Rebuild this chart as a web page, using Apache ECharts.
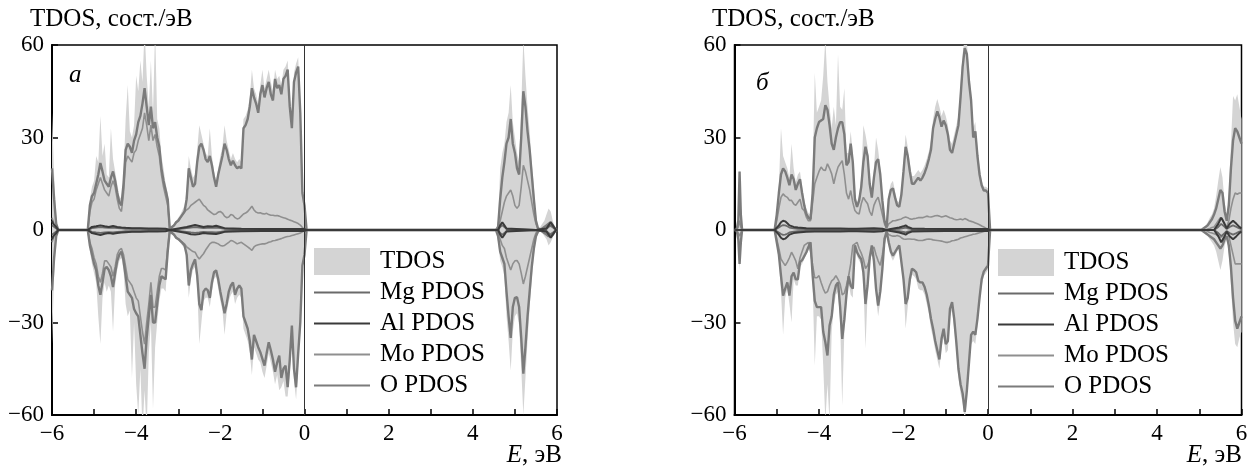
<!DOCTYPE html>
<html><head><meta charset="utf-8">
<script src="https://cdn.jsdelivr.net/npm/echarts@6/dist/echarts.min.js"></script>
<style>html,body{margin:0;padding:0;background:#fff}#c{width:1255px;height:471px}</style>
</head><body><div id="c"></div>
<script>
// ---------- tick labels / legend names ----------
const xTicks = [-6,-4,-2,0,2,4,6];
const xTickLabels = ['\u22126','\u22124','\u22122','0','2','4','6'];
const yTicks = [-60,-30,0,30,60];
const yTickLabels = ['\u221260','\u221230','0','30','60'];
const legendNames = ['TDOS','Mg PDOS','Al PDOS','Mo PDOS','O PDOS'];
const panelLabels = ['a','\u0431'];
const yTitle = 'TDOS, \u0441\u043e\u0441\u0442./\u044d\u0412';

// ---------- panel a ----------
const eA = [
-6.00,-5.95,-5.90,-5.85,
-5.15,-5.10,-5.05,-5.00,-4.95,-4.90,-4.85,-4.80,-4.75,-4.70,
-4.65,-4.60,-4.55,-4.50,-4.45,-4.40,-4.35,-4.30,-4.25,-4.20,
-4.15,-4.10,-4.05,-4.00,-3.95,-3.90,-3.85,-3.80,-3.75,-3.70,
-3.65,-3.60,-3.55,-3.50,-3.45,-3.40,-3.35,-3.30,-3.25,-3.20,
-3.15,-3.10,-3.05,-3.00,-2.95,-2.90,-2.85,-2.80,-2.75,-2.70,
-2.65,-2.60,-2.55,-2.50,-2.45,-2.40,-2.35,-2.30,-2.25,-2.20,
-2.15,-2.10,-2.05,-2.00,-1.95,-1.90,-1.85,-1.80,-1.75,-1.70,
-1.65,-1.60,-1.55,-1.50,-1.45,-1.40,-1.35,-1.30,-1.25,-1.20,
-1.15,-1.10,-1.05,-1.00,-0.95,-0.90,-0.85,-0.80,-0.75,-0.70,
-0.65,-0.60,-0.55,-0.50,-0.45,-0.40,-0.35,-0.30,-0.25,-0.20,
-0.15,-0.10,-0.05,0.00,0.05,
4.55,4.60,4.65,4.70,4.75,4.80,4.85,4.90,4.95,5.00,
5.05,5.10,5.15,5.20,5.25,5.30,5.35,5.40,5.45,5.50,
5.55,5.60,5.65,5.70,5.75,5.80,5.85,5.90,5.95,6.00];
const tdosUpA = [
38,18,4,0,
0,10,14,16,24,22,37,24,28,18,
17,33,23,19,15,11,10,18,36,47,
32,30,34,50,45,55,48,65,50,40,
55,38,65,36,33,24,20,15,12,0,
1.5,2,3,4,5,6.5,8,13,24,20,
17,18,26,34,31,28,25,24,33,24,
19,16,20,24,27,34,29,26,23,25,
23,22,23,22,36,37,39,43,52,46,
44,41,47,52,46,49,52,48,45,52,
49,50,47,52,53,55,43,36,51,54,
56,40,14,10,0,
0,3,20,25,28,35,38,47,35,30,
25,22,40,62,50,40,32,22,14,5,
1,1,2,3,5,7,6,3,1,0.5];
const oUpA = [
20,10,2,0,
0,8,11,12,15,18,21.7,19,16,15,
14,17,19,16,12,9,8,15,26,28,
27,25,29,31,35,37,41,46,40,34,
40,33,35,30,27,20,16,13,10,0,
1,1.5,2.5,3,4,5,6,10,20,17,
14,15,22,27,28,26,23,22,24,21,
17,14,18,21,24,28,26,23,21,22.5,
21,20,20.5,20,33,34,36,40,46,43,
41,38,44,47,43,46,48,44,42,49,
46,47,44,49,50,52,40,33,48,51,
53,38,12,8,0,
0,1,10,17,22,28,30,36,28,25,
20,18,30,45,40,32,26,18,10,3,
0.5,0,0.5,1,1.5,2,2.5,1.5,0.5,0];
const moUpA = [
4,2,0.5,0,
0,6,9,10,13,15,17,15,13,12,
11,14,16,14,10,7,6,12,22,24,
23,22,25,26,29,31,33,38,34,29,
34,29,31,27,24,18,14,11,8,0,
0.8,1.5,2.5,3,4,5,6,6.5,7,8,
8.5,9,9.5,10,9,8,7.5,6.5,6,5.5,
5,5.2,5.8,6,5.5,4.5,4,4.2,5,4.8,
4,3.6,3.8,4.5,5.2,5.5,6,6.8,7.7,6.5,
5.8,5.5,5.6,5.3,5.2,5.4,5,4.8,4.8,4.6,
4.7,4.5,4.2,4,3.8,3.5,3.2,3,2.7,2.4,
2.1,1.6,0.8,0.3,0,
0,0.5,3,6,9,11,12,13,11,8,
7,8,14,21,19,16,13,9,5,2,
0.3,0,0.3,0.6,1,1.5,1.2,0.8,0.3,0];
const tdosDnA = [
-37,-15,-3,0,
0,-7,-11,-14,-17,-28,-37,-22,-17,-20,
-18,-20,-33,-18,-13,-10,-9,-13,-24,-28,
-26,-48,-30,-50,-60,-45,-65,-52,-65,-40,
-30,-58,-38,-30,-23,-19,-19,-20,-9,0,
-1.5,-2,-3,-3.5,-4.2,-5,-6,-10,-22,-16,
-13,-12,-18,-37,-30,-23,-22,-22,-25,-20,
-16,-15,-19,-23,-26,-34,-27,-23,-21,-20,
-24,-22,-21,-22,-32,-34,-36,-40,-47,-38,
-40,-42,-43,-46,-48,-44,-40,-43,-46,-50,
-47,-52,-51,-49,-54,-54,-46,-35,-49,-55,
-44,-33,-13,-9,0,
0,-4,-10,-12,-15,-28,-36,-45.6,-33,-28,
-27,-31,-45,-60,-48,-36,-25,-16,-8,-3,
-1,-0.5,-1,-2,-3,-5,-4,-2.5,-1,-0.5];
const oDnA = [
-19.6,-9,-2,0,
0,-5,-8,-11,-13,-18,-21,-17,-12.6,-12,
-13,-15,-18.5,-14,-10,-8,-7,-10,-15,-20,
-21,-22,-25.6,-27,-28,-34,-40,-45,-35,-28,
-21,-30,-30,-24,-18,-15,-15.5,-16,-7,0,
-1,-1.5,-2.5,-2.9,-3.5,-4.2,-5,-8,-18,-13,
-11,-9.5,-14.8,-24,-26,-20,-19,-19.5,-22,-17,
-13.7,-13.1,-16,-20,-23.4,-27,-24,-20,-18,-17,
-21,-19,-18,-19,-28,-30,-32,-36,-42,-34,
-36,-38,-39.6,-41.8,-44,-40,-36.4,-39,-42,-46,
-43,-40.7,-48,-45,-44,-51,-42,-31,-45,-51,
-40,-30,-11.5,-8,0,
0,-2,-7,-9,-11,-20,-28,-35,-25,-22,
-21.8,-25,-35,-46.6,-38,-28,-20,-12,-6,-2,
-0.5,0,-0.5,-1,-1.5,-2,-2,-1.5,-0.5,0];
const moDnA = [
-4,-2,-0.5,0,
0,-4,-6,-9,-11,-15,-17,-14,-10,-10,
-11,-12,-15,-12,-8,-6.5,-6,-8,-12,-16,
-17,-18,-20,-22,-23,-28,-33,-37,-30,-24,
-17,-25,-25,-20,-15,-12.5,-12.5,-13,-5.5,0,
-0.8,-1.5,-2.5,-2.9,-3.5,-4,-4.5,-5.5,-6,-6.5,
-7,-7.2,-8.5,-9.4,-8.5,-7.7,-6.5,-5.5,-4.5,-4,
-4,-4.2,-4.5,-5,-5.2,-5,-4.5,-4,-3.4,-3.6,
-4,-4.5,-4.2,-4,-4.5,-5,-5.5,-6,-6.6,-5.5,
-5,-4.8,-4.6,-4.5,-4.5,-4.3,-4,-3.8,-3.5,-3.4,
-3.2,-3,-2.8,-2.5,-2.3,-2.1,-2,-1.8,-1.6,-1.4,
-1.2,-1,-0.6,-0.2,0,
0,-1,-3,-5,-6,-9,-11,-13,-11,-10,
-9.9,-11,-14,-17.5,-15,-12,-9,-6,-3,-1,
-0.3,0,-0.3,-0.6,-1,-1.3,-1.2,-0.8,-0.3,0];
const eSmA = [-6.00,-5.97,-5.93,-5.90,-5.85,-5.15,-5.05,-4.95,-4.85,-4.75,-4.65,-4.55,-4.45,-4.35,-4.25,-4.10,-3.90,-3.70,-3.50,-3.30,-3.20,-3.00,-2.80,-2.70,-2.60,-2.50,-2.40,-2.30,-2.20,-2.10,-2.00,-1.90,-1.70,-1.50,-1.00,-0.50,0.00,0.05,4.60,4.65,4.70,4.75,4.80,5.50,5.75,5.80,5.85,5.90,5.95,6.00];
const alUpA = [3,2,1.5,1,0, 0,1,1.2,1.5,1.2, 1,1.3,1,0.8,0.7, 0.6,0.6,0.5,0.5,0.4, 0,0.5,1,1.3,1.6, 1.3,1,1.2,1.1,1.4, 1,0.6,0.5,0.4,0.3, 0.3,0.3,0, 0,1.5,2.5,1.5,0.5, 0,0.5,1.5,2.5,1.5,0.5,0];
const alDnA = [-3,-2,-1.5,-1,0, 0,-1,-1.3,-1.6,-1.2, -1,-1.2,-1,-0.8,-0.7, -0.6,-0.6,-0.5,-0.5,-0.4, 0,-0.5,-1,-1.4,-1.5, -1.3,-1,-1.1,-1.2,-1.3, -1,-0.6,-0.5,-0.4,-0.3, -0.3,-0.3,0, 0,-1.5,-2.5,-1.5,-0.5, 0,-0.5,-1.5,-2.5,-1.5,-0.5,0];
const mgUpA = [1.5,1,0.8,0.5,0, 0,0.6,0.8,0.9,0.8, 0.7,0.8,0.6,0.5,0.4, 0.4,0.4,0.3,0.3,0.2, 0,0.3,0.6,0.8,0.9, 0.8,0.6,0.7,0.7,0.8, 0.6,0.4,0.3,0.2,0.2, 0.2,0.2,0, 0,1,1.5,1,0.3, 0,0.3,1,1.5,1,0.3,0];
const mgDnA = [-1.5,-1,-0.8,-0.5,0, 0,-0.6,-0.8,-0.9,-0.8, -0.7,-0.8,-0.6,-0.5,-0.4, -0.4,-0.4,-0.3,-0.3,-0.2, 0,-0.3,-0.6,-0.8,-0.9, -0.8,-0.6,-0.7,-0.7,-0.8, -0.6,-0.4,-0.3,-0.2,-0.2, -0.2,-0.2,0, 0,-1,-1.5,-1,-0.3, 0,-0.3,-1,-1.5,-1,-0.3,0];

// ---------- panel б ----------
const eB = [
-6.00,-5.95,-5.91,-5.88,-5.85,-5.82,
-5.05,-5.00,-4.95,-4.90,-4.85,-4.80,-4.75,-4.70,-4.65,-4.60,
-4.55,-4.50,-4.45,-4.40,-4.35,-4.30,-4.25,-4.20,-4.15,-4.10,
-4.05,-4.00,-3.95,-3.90,-3.85,-3.80,-3.75,-3.70,-3.65,-3.60,
-3.55,-3.50,-3.45,-3.40,-3.35,-3.30,-3.25,-3.20,-3.15,-3.10,
-3.05,-3.00,-2.95,-2.90,-2.85,-2.80,-2.75,-2.70,-2.65,-2.60,
-2.55,-2.50,-2.45,-2.40,-2.35,-2.30,-2.25,-2.20,-2.15,-2.10,
-2.05,-2.00,-1.95,-1.90,-1.85,-1.80,-1.75,-1.70,-1.65,-1.60,
-1.55,-1.50,-1.45,-1.40,-1.35,-1.30,-1.25,-1.20,-1.15,-1.10,
-1.05,-1.00,-0.95,-0.90,-0.85,-0.80,-0.75,-0.70,-0.65,-0.60,
-0.55,-0.50,-0.45,-0.40,-0.35,-0.30,-0.25,-0.20,-0.15,-0.10,
-0.05,0.00,0.05,
5.00,5.05,5.10,5.15,5.20,5.25,5.30,5.35,5.40,5.45,
5.50,5.55,5.60,5.65,5.70,5.75,5.80,5.85,5.90,5.95,6.00];
const tdosUpB = [
0,0,4,20,7,0,
0,6,14,33,24,22,20,17,28,20,
15.5,18,19,14,10,7,5.5,5,18,51,
38,40,42,50,62,48,40,33,40,34,
57,40,39,46,25,25,32,25,12,9,
11,17,34,31,27,17,12,20,30,26,
20,11,4,1.5,12,15,16,12.5,9.5,9,
13.5,22,31,27,21.5,17.5,17.5,18.5,19.5,18.5,
19.5,21,23,25.5,29,36,40,42.5,40,37,
39,37,34,29,28,31,34,37,47,57,
63,61,52,45,33,35,27,20,16,14,
14,13.5,0,
0,0.5,1,1.5,2.5,4,5,7,11,16,
20.4,17,9,5,12,28,43.5,42,44,40,36];
const oUpB = [
0,0,3,19,5,0,
0,5,12,18,20,19,17,14.5,18,16.5,
13,15,16.5,12,8,5.2,4,3.5,12,30,
33,35,35.5,36,40.5,39,34,28,26,30,
33,35,35,31,21,22,28,22,10,7.5,
9.5,14,22,27,24,15,10.5,17,22,23,
18,9.6,3,0.8,10,13,13.5,10.5,8,7.5,
11.5,19,27,24,19,15,15,16,17,16,
17,18.5,20.5,23,26,33,36,38.5,36.5,33.5,
35.5,34,31,26,25,28,31,34,43,53,
59,57,48,42,30,32,24,18,14.5,12.8,
12.8,12,0,
0,0,0.5,1,1.5,2.5,3.5,5,7,10,
13,12,6,3,8,20,29,33,32,30,28];
const moUpB = [
0,0,1,3,1,0,
0,3,7,10.6,11.7,11,10.6,9.6,9.6,8.5,
8,9,10,7,6.3,4.2,3,3,9,15,
17,19,20.4,19.5,19.3,21.5,20,18.2,15,18,
20.4,21.5,22.5,18,12,10,12.8,9,6.3,5.5,
5.2,8.5,10.6,9.5,8.5,6,4.7,8,9.6,10.6,
8,5,2,0.5,2,2.5,3,3,3.2,3.4,
3.6,4,4.2,4,3.6,3.5,3.7,3.8,4,4,
4,4.2,4.5,4.3,4.2,4.4,4.6,4.7,4.5,4.2,
4.4,4.6,4.3,4,3.8,3.5,3.3,3.4,3.6,3.3,
3.7,3.4,3,2.8,2.6,2.3,2,1.7,1.3,1,
0.6,0.3,0,
0,0,0,0,0.3,0.5,0.8,1,2,3,
4,3.5,1.5,1,3,7,10,12,11.6,12,12];
const tdosDnB = [
0,0,-4,-13,-5,0,
0,-5,-10,-20,-34,-22,-19,-24,-30,-16,
-18,-18,-12,-11,-9.5,-8,-6.5,-5,-18,-44,
-28,-28,-29,-44,-62,-50,-62,-33,-25,-21,
-20,-30,-57,-33,-24,-17,-21,-22,-6,-8.5,
-10,-11,-16,-38.5,-21,-10.5,-6,-12,-22,-28,
-23,-14.5,-3.5,-0.8,-5,-8.5,-10,-8.5,-7,-6,
-12,-18,-32,-25,-18.5,-14.5,-15,-16,-19,-19.5,
-19.5,-21,-24,-27,-32,-35,-39,-42,-45,-38,
-35,-40,-39,-28,-26,-32,-39,-48,-53,-56,
-62,-55,-46,-37,-36,-37,-31,-24,-18,-15,
-14,-13,0,
0,-0.5,-1,-1.5,-2,-3,-4,-5,-7,-10,
-13,-10,-5,-3,-8,-18,-30,-37,-38,-35,-33];
const oDnB = [
0,0,-3,-11,-4,0,
0,-4,-8,-14.8,-21.3,-19,-17,-21.3,-15,-13.8,
-16,-16,-10.4,-9.8,-8.5,-7.2,-5.5,-4,-14.8,-23,
-25,-25,-25,-33,-36.4,-40.7,-31,-28,-21,-18,
-17,-25,-35.3,-29,-21,-15,-18,-19,-5,-7.2,
-8.5,-9.5,-13.7,-24,-18,-9,-5,-10,-19,-24.5,
-20,-12.6,-2.9,-0.5,-4,-7,-8.3,-7.2,-6,-5,
-10.4,-15.9,-24,-22,-16,-12.6,-13,-13.7,-16.5,-17,
-17,-18.5,-21,-24.5,-28.8,-32,-36,-39,-42,-35.3,
-32,-37,-36,-25.6,-23.4,-28.8,-36.4,-45,-50,-53,
-59,-52,-43,-34,-33,-34,-28.8,-22,-16,-13.5,
-12.5,-11.5,0,
0,0,-0.5,-1,-1.5,-2,-2.5,-3,-4,-5,
-6,-5,-3,-2,-5,-12,-22,-29.4,-32,-30,-28];
const moDnB = [
0,0,-1,-2,-1,0,
0,-3,-6,-9.4,-10.5,-11.5,-10.4,-9,-7.2,-8.5,
-10,-12.6,-9,-7,-5,-4.5,-4,-7,-11.5,-15.5,
-15.5,-14.8,-17,-19,-20.5,-20,-18,-16.5,-15.9,-14.8,
-16,-17.5,-21,-20.5,-18,-15,-11,-5,-4.5,-4,
-6,-7.5,-9.5,-12.5,-11.5,-9.4,-6.5,-5.5,-8,-10,
-11.5,-8,-4,-0.5,-1.5,-1.8,-2,-2,-1.8,-2,
-2.5,-2.9,-3,-2.9,-2.9,-3,-3,-3.2,-3.4,-3.4,
-3.4,-3.2,-3,-2.9,-3,-3.2,-3.3,-3.4,-3.5,-3.6,
-3.8,-4,-4,-3.8,-3.5,-3.4,-3.2,-3,-2.6,-2.4,
-2.2,-2,-1.8,-1.6,-1.4,-1.3,-1.1,-0.9,-0.7,-0.5,
-0.3,-0.2,0,
0,0,0,0,-0.5,-0.8,-1,-1.2,-1.5,-2,
-2.5,-2,-1,-0.8,-2,-5,-8,-11,-11,-11,-11];
const eSmB = [-6.00,-5.05,-4.95,-4.90,-4.85,-4.80,-4.75,-4.70,-4.60,-4.50,-4.30,-4.10,-3.90,-3.70,-3.50,-3.30,-3.10,-2.90,-2.70,-2.50,-2.40,-2.30,-2.10,-2.00,-1.95,-1.90,-1.80,-1.50,-1.00,-0.50,0.00,0.05,5.35,5.45,5.52,5.60,5.65,5.72,5.80,5.88,5.95,6.00];
const alUpB = [0,0,1.5,2.5,3,2.8, 2.2,1.5,1,0.8,0.6, 0.5,0.5,0.5,0.5,0.4, 0.4,0.5,0.6,0.4,0, 0.3,0.8,1.2,1.5,1, 0.5,0.4,0.3,0.3,0.3, 0, 0,2,4,2,0.5, 2,3,2,1,0.5];
const alDnB = [0,0,-1.5,-2.5,-3,-2.8, -2.2,-1.5,-1,-0.8,-0.6, -0.5,-0.5,-0.5,-0.5,-0.4, -0.4,-0.5,-0.6,-0.4,0, -0.3,-0.8,-1.2,-1.5,-1, -0.5,-0.4,-0.3,-0.3,-0.3, 0, 0,-2,-4,-2,-0.5, -2,-3,-2,-1,-0.5];
const mgUpB = [0,0,0.8,1.3,1.6,1.5, 1.2,0.8,0.5,0.4,0.3, 0.3,0.3,0.3,0.3,0.2, 0.2,0.3,0.3,0.2,0, 0.2,0.4,0.6,0.8,0.5, 0.3,0.2,0.2,0.2,0.2, 0, 0,1,2,1,0.3, 1,1.5,1,0.5,0.3];
const mgDnB = [0,0,-0.8,-1.3,-1.6,-1.5, -1.2,-0.8,-0.5,-0.4,-0.3, -0.3,-0.3,-0.3,-0.3,-0.2, -0.2,-0.3,-0.3,-0.2,0, -0.2,-0.4,-0.6,-0.8,-0.5, -0.3,-0.2,-0.2,-0.2,-0.2, 0, 0,-1,-2,-1,-0.3, -1,-1.5,-1,-0.5,-0.3];

// ---------- build ----------
const FONT = '"Liberation Serif", "Times New Roman", serif';
const TDOS_C = '#d4d4d4';
const STY = {
  'O PDOS':  {color:'#7b7b7b', width:2.4, z:4},
  'Mo PDOS': {color:'#8f8f8f', width:1.6, z:3},
  'Mg PDOS': {color:'#6a6a6a', width:1.8, z:5},
  'Al PDOS': {color:'#3a3a3a', width:2,   z:6}
};
function pairs(e, v){ return e.map((x, i) => [x, v[i]]); }
function areaS(e, v, gi){
  return {type:'line', name:'TDOS', xAxisIndex:gi, yAxisIndex:gi, data:pairs(e, v),
    symbol:'none', showSymbol:false, silent:true, z:1,
    itemStyle:{color:TDOS_C}, lineStyle:{width:0, color:TDOS_C},
    areaStyle:{color:TDOS_C, opacity:1}};
}
function lineS(name, e, v, gi, extra){
  const s = STY[name];
  return Object.assign({type:'line', name, xAxisIndex:gi, yAxisIndex:gi, data:pairs(e, v),
    symbol:'none', showSymbol:false, silent:true, z:s.z,
    itemStyle:{color:s.color}, lineStyle:{color:s.color, width:s.width}}, extra || {});
}
const vline = {markLine:{silent:true, symbol:['none','none'], label:{show:false},
  lineStyle:{color:'#333', width:1, type:'solid'}, data:[{xAxis:0}], animation:false}};

const series = [];
[[eA, tdosUpA, tdosDnA, oUpA, oDnA, moUpA, moDnA, eSmA, mgUpA, mgDnA, alUpA, alDnA],
 [eB, tdosUpB, tdosDnB, oUpB, oDnB, moUpB, moDnB, eSmB, mgUpB, mgDnB, alUpB, alDnB]]
.forEach((p, gi) => {
  const [e, tu, td, ou, od, mu, md, es, gu, gd, au, ad] = p;
  series.push(areaS(e, tu, gi), areaS(e, td, gi));
  series.push(lineS('Mg PDOS', es, gu, gi), lineS('Mg PDOS', es, gd, gi));
  series.push(lineS('Al PDOS', es, au, gi, vline), lineS('Al PDOS', es, ad, gi));
  series.push(lineS('Mo PDOS', e, mu, gi), lineS('Mo PDOS', e, md, gi));
  series.push(lineS('O PDOS', e, ou, gi), lineS('O PDOS', e, od, gi));
});

const grids = [
  {left:52, top:45, width:505, height:370},
  {left:734.5, top:45, width:507, height:370}
].map(g => Object.assign(g, {show:true, borderColor:'#000', borderWidth:1.5, backgroundColor:'transparent', containLabel:false}));

const labStyle = {color:'#000', fontFamily:FONT, fontSize:23};
const xAxes = [0,1].map(gi => ({gridIndex:gi, type:'value', min:-6, max:6, interval:1,
  axisLine:{show:true, onZero:false, lineStyle:{color:'#000', width:2}},
  axisTick:{show:true, inside:true, length:6, lineStyle:{color:'#000', width:1.5}},
  splitLine:{show:false},
  axisLabel:Object.assign({margin:7, showMinLabel:true, showMaxLabel:true,
    formatter:v => { const i = xTicks.indexOf(v); return i < 0 ? '' : xTickLabels[i]; }}, labStyle)}));
const yAxes = [0,1].map(gi => ({gridIndex:gi, type:'value', min:-60, max:60, interval:30,
  axisLine:{show:true, onZero:false, lineStyle:{color:'#000', width:2}},
  axisTick:{show:true, inside:true, length:6, lineStyle:{color:'#000', width:1.5}},
  splitLine:{show:false},
  axisLabel:Object.assign({margin:8,
    formatter:v => { const i = yTicks.indexOf(v); return i < 0 ? '' : yTickLabels[i]; }}, labStyle)}));

const legendData = legendNames.map(n => n === 'TDOS'
  ? {name:n, icon:'rect', itemStyle:{color:TDOS_C, borderWidth:0}, lineStyle:{width:0}}
  : {name:n, itemStyle:{opacity:0}});
const legends = [{left:313, top:248}, {left:997, top:249}].map(p => Object.assign(p, {
  orient:'vertical', itemWidth:56, itemHeight:27, itemGap:4, selectedMode:false,
  padding:0, textStyle:{color:'#000', fontFamily:FONT, fontSize:25, lineHeight:27, padding:[0,0,0,5]},
  data:legendData}));

function txt(x, y, text, opts){
  return {type:'text', x, y, silent:true, z:100,
    style:Object.assign({text, fill:'#000', font:'25px ' + FONT, verticalAlign:'middle', align:'left'}, opts || {})};
}
const graphics = [
  txt(30, 19, yTitle), txt(712, 19, yTitle),
  txt(69, 75, panelLabels[0], {font:'italic 25px ' + FONT}),
  txt(756, 83, panelLabels[1], {font:'italic 25px ' + FONT}),
  txt(562, 455, '{i|E}, \u044d\u0412', {align:'right', rich:{i:{font:'italic 25px ' + FONT}}}),
  txt(1242, 455, '{i|E}, \u044d\u0412', {align:'right', rich:{i:{font:'italic 25px ' + FONT}}})
];

const chart = echarts.init(document.getElementById('c'), null, {renderer:'canvas'});
chart.setOption({
  animation:false, backgroundColor:'#fff',
  grid:grids, xAxis:xAxes, yAxis:yAxes, legend:legends,
  graphic:graphics, series
});
</script>
</body></html>
